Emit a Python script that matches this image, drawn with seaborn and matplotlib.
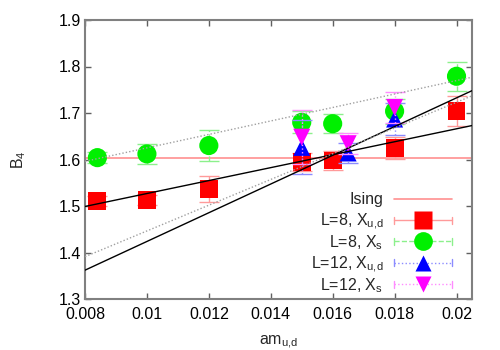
import numpy as np
import matplotlib
matplotlib.use('Agg')
import matplotlib.pyplot as plt
import seaborn as sns
import pandas as pd
from matplotlib.lines import Line2D
from matplotlib.legend_handler import HandlerBase, HandlerLine2D

# ---------------- data ----------------
x_l8 = [0.0084, 0.010, 0.012, 0.015, 0.016, 0.018, 0.020]
b4_l8_ud = [1.511, 1.513, 1.537, 1.595, 1.598, 1.625, 1.705]
err_l8_ud = [0.010, 0.010, 0.028, 0.020, 0.021, 0.024, 0.032]
b4_l8_s = [1.604, 1.612, 1.630, 1.680, 1.677, 1.704, 1.779]
err_l8_s = [0.012, 0.022, 0.033, 0.024, 0.020, 0.027, 0.031]

x_l12 = [0.015, 0.0165, 0.018]
b4_l12_ud = [1.626, 1.614, 1.687]
err_l12_ud = [0.058, 0.022, 0.035]
b4_l12_s = [1.648, 1.634, 1.712]
err_l12_s = [0.058, 0.022, 0.034]

ising_b4 = 1.604

fit_x = [0.008, 0.0205]
fit_l8_ud = [1.499, 1.673]
fit_l8_s = [1.596, 1.777]
fit_l12_ud = [1.362, 1.748]
fit_l12_s = [1.391, 1.737]

x_ticks = [0.008, 0.010, 0.012, 0.014, 0.016, 0.018, 0.020]
x_tick_labels = ['0.008', '0.01', '0.012', '0.014', '0.016', '0.018', '0.02']
y_ticks = [1.3, 1.4, 1.5, 1.6, 1.7, 1.8, 1.9]
y_tick_labels = ['1.3', '1.4', '1.5', '1.6', '1.7', '1.8', '1.9']

labels = ['Ising', r'L=8, X$_\mathrm{u{,}d}$', r'L=8, X$_\mathrm{s}$',
          r'L=12, X$_\mathrm{u{,}d}$', r'L=12, X$_\mathrm{s}$']

# ---------------- style ----------------
sns.set_theme(style='ticks')
plt.rcParams['font.family'] = ['Liberation Sans', 'DejaVu Sans']
plt.rcParams['mathtext.fontset'] = 'custom'
plt.rcParams['mathtext.rm'] = 'Liberation Sans'
plt.rcParams['mathtext.it'] = 'Liberation Sans:italic'
plt.rcParams['mathtext.bf'] = 'Liberation Sans:bold'

FS = 11.5
fig = plt.figure(figsize=(5, 3.5), dpi=100)
ax = fig.add_axes([85 / 500, 1 - 299 / 350, (472 - 85) / 500, (299 - 20) / 350])

red, green, blue, mag = '#ff0000', '#00f000', '#0000ff', '#ff00ff'
ered, egreen, eblue, emag = '#ff9a9a', '#8cf08c', '#8c8cff', '#ff8cff'

# Ising line
sns.lineplot(x=[0.0, 0.03], y=[ising_b4, ising_b4], color='#ff9090', lw=1.2, ax=ax, zorder=1)

series = [
    (x_l8, b4_l8_ud, err_l8_ud, red, ered, '-', 's', 165),
    (x_l8, b4_l8_s, err_l8_s, green, egreen, '--', 'o', 190),
    (x_l12, b4_l12_ud, err_l12_ud, blue, eblue, ':', '^', 150),
    (x_l12, b4_l12_s, err_l12_s, mag, emag, ':', 'v', 150),
]
z = 2
for xs, ys, es, c, ec, ls, mk, sz in series:
    eb = ax.errorbar(xs, ys, yerr=es, fmt='none', ecolor=ec, elinewidth=1.0,
                     capsize=7, capthick=1.0, zorder=z)
    eb[2][0].set_linestyle(ls)
    sns.scatterplot(x=xs, y=ys, marker=mk, s=sz, color=c, edgecolor='none',
                    linewidth=0, ax=ax, zorder=z + 1, legend=False)
    z += 2

# fit lines
sns.lineplot(x=fit_x, y=fit_l8_ud, color='black', lw=1.0, ax=ax, zorder=20)
sns.lineplot(x=fit_x, y=fit_l12_ud, color='black', lw=1.0, ax=ax, zorder=20)
sns.lineplot(x=fit_x, y=fit_l8_s, color='#a0a0a0', lw=1.0, ls=(0, (1, 1.5)), ax=ax, zorder=20)
sns.lineplot(x=fit_x, y=fit_l12_s, color='#a0a0a0', lw=1.0, ls=(0, (1, 1.5)), ax=ax, zorder=20)

ax.set_xlim(0.008, 0.0205)
ax.set_ylim(1.3, 1.9)
ax.set_xticks(x_ticks)
ax.set_xticklabels(x_tick_labels)
ax.set_yticks(y_ticks)
ax.set_yticklabels(y_tick_labels)
ax.tick_params(direction='in', length=4, width=1, color='#606060', labelsize=FS,
               top=True, right=True, labelcolor='black')
ax.tick_params(axis='y', pad=3)
ax.tick_params(axis='x', pad=6)
for sp in ax.spines.values():
    sp.set_visible(True)
    sp.set_color('#808080')
    sp.set_linewidth(1.5)

ax.set_xlabel(r'am$_\mathrm{u{,}d}$', fontsize=FS, labelpad=8)
ax.set_ylabel(r'B$_4$', fontsize=FS, labelpad=22)


class HandlerGP(HandlerBase):
    def create_artists(self, legend, orig_handle, xdescent, ydescent, width,
                       height, fontsize, trans):
        y = height / 2 - ydescent
        x0, x1 = -xdescent, -xdescent + width
        kw = dict(color=orig_handle.get_color(), lw=orig_handle.get_linewidth())
        line = Line2D([x0, x1], [y, y], linestyle=orig_handle.get_linestyle(), **kw)
        cap = 2.5
        c0 = Line2D([x0, x0], [y - cap, y + cap], **kw)
        c1 = Line2D([x1, x1], [y - cap, y + cap], **kw)
        m = Line2D([(x0 + x1) / 2], [y], linestyle='none',
                   marker=orig_handle.get_marker(),
                   markersize=orig_handle.get_markersize(),
                   markerfacecolor=orig_handle.get_markerfacecolor(),
                   markeredgecolor='none')
        arts = [line, c0, c1, m]
        for a in arts:
            a.set_transform(trans)
        return arts


h_ising = Line2D([], [], color='#ff9090', lw=1.2)
h1 = Line2D([], [], color=ered, ls='-', lw=1.0, marker='s', markersize=12.8, markerfacecolor=red)
h2 = Line2D([], [], color=egreen, ls='--', lw=1.0, marker='o', markersize=13.5, markerfacecolor=green)
h3 = Line2D([], [], color=eblue, ls=':', lw=1.0, marker='^', markersize=12, markerfacecolor=blue)
h4 = Line2D([], [], color=emag, ls=':', lw=1.0, marker='v', markersize=12, markerfacecolor=mag)
hmap = {h_ising: HandlerLine2D(), h1: HandlerGP(), h2: HandlerGP(), h3: HandlerGP(), h4: HandlerGP()}
leg = ax.legend([h_ising, h1, h2, h3, h4], [''] * len(labels), loc='lower right',
                bbox_to_anchor=(0.948, 0.022), frameon=False, fontsize=FS,
                markerfirst=False, handlelength=3.6, handletextpad=0.0,
                labelspacing=0.40, borderpad=0, borderaxespad=0, handler_map=hmap)

# right-aligned legend labels placed next to the handles
fig.canvas.draw()
inv = fig.transFigure.inverted()
for h, lab in zip(leg.legend_handles, labels):
    xy = h.get_transform().transform(np.column_stack([h.get_xdata(), h.get_ydata()]))
    x0 = xy[:, 0].min()
    yc = xy[:, 1].mean()
    fx, fy = inv.transform((x0 - 11, yc - 5.6))
    fig.text(fx, fy, lab, ha='right', va='baseline', fontsize=FS)

fig.savefig('out.png', dpi=100)
